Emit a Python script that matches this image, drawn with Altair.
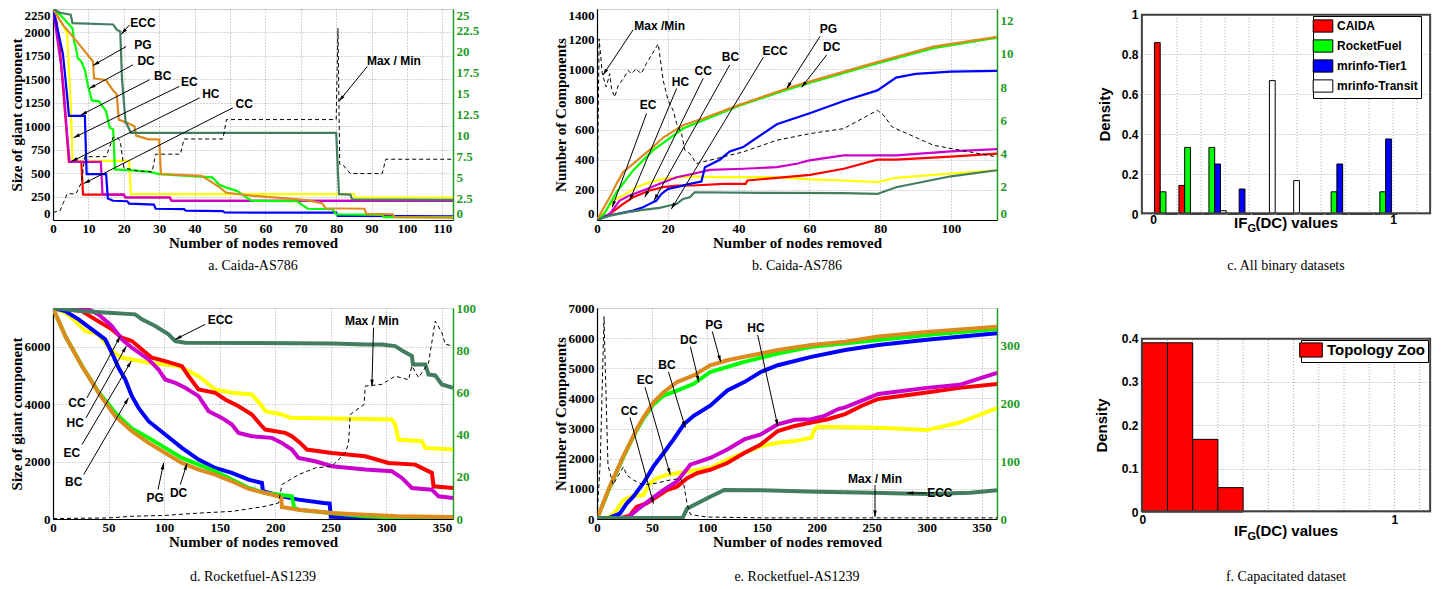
import math
import altair as alt
import pandas as pd

SERIF = "Liberation Serif"
SANS = "Liberation Sans"
AXGREEN = "#1e9a1e"
GRID = "#a8a8a8"
FRAME = "#404040"
COLORS = {"ECC": "#437d60", "EC": "#ffff00", "CC": "#ff0000", "HC": "#cc00cc",
          "BC": "#0000ff", "DC": "#00ff00", "PG": "#dd8a1e"}
ORDER = ["EC", "CC", "HC", "BC", "DC", "PG", "ECC"]
ARROW = "M0,0L-0.7,2.6L0.7,2.6Z"
W, H = 400, 211

# ---------------- Panel a: Caida-AS786, size of giant component ----------------
a_ECC_x = [0, 2, 5, 5.5, 17, 18, 19, 19.5, 20.5, 22, 80, 80.8, 84, 84.5, 113]
a_ECC_y = [2250, 2210, 2190, 2100, 2085, 2030, 2010, 1500, 1050, 930, 930, 275, 270, 220, 215]
a_PG_x = [0, 2.8, 6.6, 11.3, 11.6, 15, 17, 18, 18.6, 21, 23, 23.5, 27, 30, 30.5, 42, 47, 49, 56, 66, 72, 76, 77, 88, 88.5, 96, 96.5, 113]
a_PG_y = [2250, 2080, 1910, 1690, 1510, 1490, 1380, 1340, 1070, 1036, 1000, 900, 860, 860, 490, 470, 350, 290, 260, 230, 210, 180, 125, 120, 65, 60, 30, 25]
a_DC_x = [0, 2, 5.5, 6, 6.5, 7, 8, 9, 10, 11, 13, 15, 16, 17, 17.5, 22, 27, 30, 45, 47, 49, 52, 56, 69, 70, 72, 79, 80, 93, 93.5, 113]
a_DC_y = [2250, 2190, 2045, 1900, 1830, 1726, 1690, 1600, 1410, 1275, 1265, 1160, 985, 965, 540, 530, 515, 490, 455, 375, 345, 310, 205, 200, 170, 120, 115, 60, 55, 30, 30]
a_BC_x = [0, 1.5, 2.8, 4, 4.5, 9, 9.5, 15, 15.5, 17, 21, 21.5, 28.5, 29, 37, 37.5, 48, 48.5, 80, 80.5, 113]
a_BC_y = [2250, 2000, 1770, 1320, 1110, 1110, 490, 490, 230, 205, 200, 175, 165, 120, 115, 100, 95, 80, 78, 45, 40]
a_EC_x = [0, 2.5, 4, 5, 5.5, 21.5, 22, 85, 85.5, 113]
a_EC_y = [2250, 2100, 1990, 1250, 630, 630, 275, 275, 240, 240]
a_HC_x = [0, 1.7, 2.3, 3, 4, 4.7, 13.5, 14, 20, 20.5, 33, 33.5, 113]
a_HC_y = [2250, 1800, 1650, 1410, 910, 620, 620, 270, 270, 240, 240, 205, 205]
a_CC_x = [0, 1, 2, 3.5, 4.5, 8, 8.5, 20, 20.5, 33, 33.5, 113]
a_CC_y = [2250, 2115, 1800, 1090, 620, 620, 270, 270, 240, 240, 205, 205]
a_MM_x = [0, 2, 3, 4, 6.5, 8, 9, 15, 17, 18, 19, 20, 22, 24, 28, 29, 36, 37, 48, 49, 80, 80.5, 81, 82, 84, 93, 94, 113]
a_MM_y = [0.9, 1.1, 2.1, 3.1, 3.1, 4.4, 7.5, 7.5, 9.8, 9.8, 9.4, 6.2, 6.0, 5.8, 5.7, 7.8, 7.8, 9.6, 9.6, 11.9, 11.9, 22.7, 6.6, 6.5, 5.5, 5.5, 7.2, 7.2]
a_lab = ["ECC", "PG", "DC", "BC", "EC", "HC", "CC", "Max / Min"]
a_tx = [25.4, 25.4, 26.3, 31, 38.5, 44.6, 54, 96.3]
a_ty = [2098, 1868, 1691, 1532, 1468, 1348, 1242, 1691]
a_ax = [21.6, 20.7, 22.6, 27.3, 35.7, 41.4, 50.8, 88.8]
a_ay = [2080, 1850, 1655, 1496, 1425, 1302, 1196, 1638]
a_hx = [19.3, 11.3, 10.2, 7.8, 5.8, 5.2, 8.7, 80.8]
a_hy = [1981, 1648, 1401, 1118, 877, 623, 389, 1266]

# ---------------- Panel b: Caida-AS786, number of components ----------------
b_PG_x = [0, 1.7, 3.6, 5.5, 7.4, 10.2, 13, 15.8, 18.7, 24.3, 30, 40, 53.6, 60, 78.6, 95, 113]
b_PG_y = [0, 73, 151, 240, 318, 373, 429, 484, 547, 629, 673, 762, 873, 918, 1044, 1150, 1215]
b_DC_x = [0, 2, 5.5, 10.2, 15.8, 24.3, 40, 53.6, 60, 78.6, 95, 113]
b_DC_y = [0, 40, 184, 329, 462, 607, 756, 865, 910, 1035, 1140, 1210]
b_BC_x = [0, 1.7, 5.5, 10.2, 13, 14.9, 16.8, 18.2, 20.1, 22.5, 26.2, 29.5, 30.5, 34.7, 37.5, 41.3, 44.1, 46.9, 50.8, 60.3, 69.7, 79.2, 84.5, 90, 100, 113]
b_BC_y = [0, 18, 40, 62, 84, 107, 129, 173, 207, 218, 240, 255, 350, 400, 455, 484, 529, 573, 635, 710, 790, 860, 945, 970, 985, 990]
b_HC_x = [0, 3.6, 6.4, 9.2, 13, 17.7, 22.5, 27.2, 31.9, 41.3, 50.8, 56.4, 60, 69.7, 84.5, 100, 113]
b_HC_y = [0, 40, 129, 162, 196, 240, 284, 307, 333, 340, 351, 373, 396, 429, 429, 455, 470]
b_CC_x = [0, 3.6, 7.4, 10.2, 14.9, 18.7, 22.5, 27.2, 35.7, 42, 42.5, 50.8, 60.2, 69.7, 79.2, 84.5, 100, 113]
b_CC_y = [0, 40, 107, 151, 196, 218, 229, 229, 240, 240, 262, 280, 300, 340, 400, 400, 420, 440]
b_EC_x = [0, 2.6, 4.5, 7.4, 11.1, 14.9, 18.7, 26.2, 31.9, 41.3, 50.8, 60.2, 69.7, 79.2, 84.5, 95, 113]
b_EC_y = [0, 62, 129, 162, 218, 251, 273, 289, 284, 284, 284, 270, 262, 251, 280, 300, 330]
b_ECC_x = [0, 3.6, 8.3, 13, 17.7, 20.5, 22.5, 24.3, 26.2, 27.6, 50, 69.6, 79.2, 84.5, 100, 113]
b_ECC_y = [0, 29, 51, 67, 80, 96, 107, 140, 151, 184, 180, 178, 173, 217, 290, 330]
b_MM_x = [0, 0.6, 1.5, 2.6, 3.6, 4.1, 5, 6, 7.4, 8.8, 9.7, 11.1, 12.5, 13.9, 17.3, 18.7, 20.1, 21.5, 22.5, 23.9, 24.8, 26.2, 28.1, 31.9, 41.3, 50.8, 60.2, 69.7, 79.2, 81, 83.4, 95, 113]
b_MM_y = [0.2, 10.9, 8.8, 8.0, 8.8, 7.9, 7.4, 8.1, 8.5, 9.0, 8.8, 9.1, 8.8, 9.4, 10.6, 8.4, 7.2, 6.6, 5.8, 5.2, 4.2, 4.0, 3.4, 3.6, 4.1, 4.8, 5.2, 5.5, 6.6, 6.3, 5.6, 4.5, 3.8]
b_lab = ["Max /Min", "EC", "HC", "CC", "BC", "ECC", "PG", "DC"]
b_tx = [17.7, 14.4, 23.6, 30, 37.7, 50.3, 65.4, 66.3]
b_ty = [1289, 762, 918, 989, 1080, 1124, 1267, 1147]
b_ax = [10.2, 14, 22.5, 30, 37.5, 47, 63, 64.9]
b_ay = [1262, 707, 873, 940, 1029, 1080, 1218, 1096]
b_hx = [1.7, 4.3, 9.2, 13.5, 16.1, 21, 53.6, 57.8]
b_hy = [962, 84, 129, 151, 129, 73, 873, 880]

# ---------------- Panel d: Rocketfuel-AS1239, size of giant component ----------------
d_ECC_x = [0, 26, 50, 74, 80, 92, 104, 110, 119, 251, 281, 296, 308, 315, 323, 324, 335, 338, 344, 350, 360]
d_ECC_y = [7350, 7244, 7186, 7128, 6953, 6721, 6430, 6198, 6140, 6116, 6081, 6081, 6023, 5849, 5674, 5384, 5384, 5035, 5000, 4686, 4570]
d_PG_x = [0, 11, 26, 41, 56, 71, 86, 101, 116, 131, 146, 161, 176, 191, 203, 205.5, 206, 221, 251, 281, 311, 360]
d_PG_y = [7350, 6372, 5326, 4395, 3581, 3058, 2651, 2302, 1953, 1721, 1547, 1314, 1047, 907, 791, 733, 419, 326, 209, 151, 93, 70]
d_DC_x = [0, 11, 26, 41, 56, 71, 86, 101, 116, 131, 146, 161, 176, 191, 215, 217, 221, 251, 281, 311, 360]
d_DC_y = [7350, 6380, 5340, 4420, 3698, 3150, 2826, 2477, 2128, 1895, 1663, 1372, 1081, 907, 791, 400, 320, 200, 93, 50, 30]
d_BC_x = [0, 11, 23, 35, 47, 53, 59, 65, 71, 77, 86, 101, 116, 131, 146, 161, 176, 188, 189, 206, 221, 243.5, 249, 250, 300, 360]
d_BC_y = [7350, 7244, 6953, 6605, 6256, 5791, 5267, 4860, 4279, 3872, 3407, 2942, 2477, 2070, 1779, 1605, 1372, 1256, 965, 791, 674, 558, 540, 80, 30, 20]
d_EC_x = [0, 11, 20, 29, 41, 47, 53, 62, 71, 86, 101, 113, 122, 131, 146, 161, 179, 187, 191, 206, 213.5, 305, 308, 309.5, 311, 332, 335, 360]
d_EC_y = [7350, 7186, 6895, 6547, 6430, 6140, 5849, 5616, 5558, 5442, 5384, 5326, 5151, 4977, 4512, 4395, 4337, 3988, 3756, 3640, 3523, 3465, 3291, 3000, 2767, 2709, 2477, 2419]
d_CC_x = [0, 26, 38, 53, 62, 71, 80, 89, 101, 116, 122, 131, 146, 155, 167, 179, 188, 191, 209, 215, 222.5, 228.5, 251, 281, 302, 326, 335, 341, 342.5, 360]
d_CC_y = [7350, 7244, 6953, 6605, 6314, 6198, 5907, 5616, 5500, 5326, 4977, 4512, 4395, 4163, 3930, 3640, 3233, 3116, 3000, 2884, 2651, 2419, 2302, 2186, 1953, 1895, 1721, 1605, 1140, 1081]
d_HC_x = [0, 32, 41, 53, 62, 71, 86, 95, 101, 110, 119, 131, 140, 152, 161, 167, 179, 197, 206, 215, 221, 236, 251, 281, 305, 314, 323, 341, 347, 360]
d_HC_y = [7350, 7302, 7128, 6721, 6256, 5965, 5558, 5209, 4860, 4744, 4570, 4279, 3756, 3523, 3291, 3000, 2884, 2826, 2651, 2419, 2128, 2012, 1837, 1721, 1663, 1430, 1081, 1023, 791, 733]
d_MM_x = [0, 50, 71, 101, 131, 161, 191, 203, 206, 221, 236, 251, 263, 266, 267.5, 280, 281, 296, 308, 320, 323, 329, 338, 344, 350, 353, 360]
d_MM_y = [0.2, 0.5, 1.3, 1.7, 2.8, 3.6, 6.0, 7.6, 16.3, 21, 24.2, 25, 31.3, 36, 49.5, 54.3, 63, 63.8, 67.7, 66, 72.5, 67, 74, 93.8, 88.3, 82.8, 82]
d_lab = ["ECC", "Max / Min", "CC", "HC", "EC", "BC", "PG", "DC"]
d_tx = [150.6, 287, 21.6, 20, 17, 18.6, 92, 113]
d_ty = [6930, 6895, 4047, 3349, 2302, 1279, 733, 907]
d_ax = [137, 288.5, 30.6, 29.7, 26.1, 27.6, 94.5, 114.6]
d_ay = [6779, 6663, 4221, 3523, 2593, 1547, 1023, 1198]
d_hx = [110, 287, 60.6, 66, 70.5, 68, 99.6, 120.6]
d_hy = [6256, 4628, 6372, 6023, 5500, 4221, 1953, 1930]

# ---------------- Panel e: Rocketfuel-AS1239, number of components ----------------
e_PG_x = [0, 5.5, 11.6, 17.7, 23.9, 30, 36, 42.2, 51.4, 60.6, 72.8, 88, 103, 118.6, 134, 149, 164.5, 195, 225.7, 256, 300, 364]
e_PG_y = [0, 515, 1074, 1577, 2081, 2528, 2975, 3367, 3870, 4206, 4541, 4765, 5101, 5268, 5380, 5492, 5604, 5772, 5884, 6051, 6200, 6380]
e_DC_x = [0, 5.5, 11.6, 17.7, 23.9, 30, 36, 42.2, 51.4, 60.6, 72.8, 88, 103, 134, 164.5, 195, 256, 300, 364]
e_DC_y = [0, 500, 1050, 1550, 2050, 2500, 2940, 3330, 3800, 4094, 4262, 4485, 4877, 5213, 5492, 5716, 5940, 6100, 6300]
e_BC_x = [0, 11.6, 20.8, 27, 33, 42.2, 51.4, 60.6, 69.7, 79, 88, 103, 118.6, 134, 149, 164.5, 195, 225.7, 256, 300, 364]
e_BC_y = [0, 45, 179, 515, 738, 1186, 1745, 2192, 2640, 3143, 3423, 3758, 4262, 4541, 4877, 5101, 5380, 5604, 5772, 5950, 6160]
e_EC_x = [0, 11.6, 17.7, 24, 33, 42.2, 48, 54.4, 63.6, 72.8, 88, 103, 118.6, 134, 149, 164.5, 180, 195, 198, 201, 256, 300, 330, 364]
e_EC_y = [0, 67, 291, 626, 772, 794, 1186, 1353, 1465, 1521, 1611, 1689, 1969, 2192, 2416, 2528, 2584, 2696, 2975, 3060, 3031, 2950, 3200, 3680]
e_CC_x = [0, 20.8, 30, 36, 45, 54.4, 63.6, 72.8, 82, 91, 103, 118.6, 134, 149, 164.5, 180, 195, 210, 225.7, 241, 256, 300, 330, 364]
e_CC_y = [0, 22, 123, 403, 515, 738, 962, 1074, 1353, 1521, 1633, 1857, 2192, 2472, 2919, 3087, 3199, 3311, 3479, 3758, 3982, 4200, 4350, 4480]
e_HC_x = [0, 27, 36, 48, 60.6, 72.8, 85, 103, 118.6, 134, 149, 164.5, 180, 195, 207, 219.6, 225.7, 241, 256, 300, 330, 364]
e_HC_y = [0, 11, 291, 626, 962, 1242, 1801, 2025, 2304, 2640, 2808, 3143, 3289, 3311, 3423, 3647, 3702, 3926, 4150, 4350, 4450, 4850]
e_ECC_x = [0, 78, 82, 91, 103, 112.5, 115.6, 150, 200, 250, 300, 340, 364]
e_ECC_y = [30, 45, 347, 515, 738, 906, 962, 950, 900, 870, 830, 870, 950]
e_MM_x = [0, 3, 6.4, 7, 10, 14.7, 17.7, 24, 27, 33, 42, 54, 66.7, 76, 79, 82, 85, 100, 150, 200, 250, 300, 364]
e_MM_y = [5, 100, 350, 300, 92.7, 59, 70, 90, 76, 67.6, 59, 62, 67.6, 70, 59, 25.7, 7.8, 3.4, 2, 2, 2, 2, 2]
e_lab = ["PG", "HC", "DC", "BC", "EC", "CC", "Max / Min", "ECC"]
e_tx = [106.4, 144.6, 83.5, 63.6, 43.7, 29.4, 253, 312]
e_ty = [6443, 6331, 5940, 5101, 4597, 3591, 1340, 860]
e_ax = [104.9, 146.2, 85, 65.1, 43.7, 30, 253, 300]
e_ay = [6219, 6107, 5716, 4877, 4374, 3367, 1128, 860]
e_hx = [112.5, 164.5, 92.7, 80.4, 66.7, 51.4, 253, 282]
e_hy = [5213, 3087, 4541, 3031, 1465, 515, 67, 860]

# ---------------- Panel c: all binary datasets (grouped histogram) ----------------
c_datasets = ["CAIDA", "RocketFuel", "mrinfo-Tier1", "mrinfo-Transit"]
c_colors = ["#ff0000", "#00ff00", "#0000ff", "#ffffff"]
c_centers = [0.054, 0.156, 0.257, 0.359, 0.461, 0.562, 0.664, 0.766, 0.868, 0.969]
c_CAIDA = [0.857, 0.143, 0, 0, 0, 0, 0, 0, 0, 0]
c_RocketFuel = [0.111, 0.333, 0.333, 0, 0, 0, 0, 0.111, 0, 0.111]
c_Tier1 = [0, 0, 0.25, 0.125, 0, 0, 0, 0.25, 0, 0.375]
c_Transit = [0, 0, 0.0167, 0, 0.667, 0.167, 0, 0, 0, 0]
c_xgrid = [0.1, 0.2, 0.3, 0.4, 0.5, 0.6, 0.7, 0.8, 0.9, 1.0, 1.1]

# ---------------- Panel f: capacitated dataset ----------------
f_left = [0.0, 0.1, 0.2, 0.3]
f_right = [0.1, 0.2, 0.3, 0.4]
f_density = [0.389, 0.389, 0.167, 0.056]
f_xgrid = [0.1, 0.2, 0.3, 0.4, 0.5, 0.6, 0.7, 0.8, 0.9, 1.0, 1.1]


def arrow_angle(x1, y1, x2, y2, xd, yd):
    dx = (x2 - x1) / (xd[1] - xd[0]) * W
    dy = -(y2 - y1) / (yd[1] - yd[0]) * H
    return math.degrees(math.atan2(dx, -dy)) % 360


def line_panel(series, mm, xdom, ydom, rdom, xticks, yticks, rticks, ytitle,
               ann, lw, caption, cap_y, flush):
    xs = alt.Scale(domain=xdom, nice=False, zero=False)
    ys = alt.Scale(domain=ydom, nice=False, zero=False)
    rs = alt.Scale(domain=rdom, nice=False, zero=False)
    xax = alt.Axis(values=xticks, grid=True, gridColor=GRID, gridDash=[1, 2], ticks=False,
                   domainColor="black", domainWidth=1.2, labelFont=SERIF, labelFontSize=13,
                   labelFontWeight="bold", labelColor="black", labelPadding=2, labelFlush=False,
                   labelOverlap=False, labelExpr="datum.value", titleFont=SERIF, titleFontSize=15,
                   titleFontWeight="bold", titleColor="black", titlePadding=0)
    yax = alt.Axis(values=yticks, grid=True, gridColor=GRID, gridDash=[1, 2], ticks=False,
                   domainColor="black", domainWidth=1.2, labelFont=SERIF, labelFontSize=13,
                   labelFontWeight="bold", labelColor="black", labelPadding=3, labelFlush=flush,
                   labelOverlap=False, labelExpr="datum.value", titleFont=SERIF, titleFontSize=15,
                   titleFontWeight="bold", titleColor="black", titlePadding=0)
    rax = alt.Axis(orient="right", values=rticks, grid=False, ticks=False, domainColor=AXGREEN,
                   domainWidth=1.5, labelFont=SERIF, labelFontSize=13, labelFontWeight="bold",
                   labelColor=AXGREEN, labelPadding=3, labelFlush=flush, labelOverlap=False,
                   labelExpr="datum.value")

    def fx(f):
        return alt.X(f"{f}:Q", scale=xs, axis=xax, title="Number of nodes removed")

    def fy(f):
        return alt.Y(f"{f}:Q", scale=ys, axis=yax, title=ytitle)

    left = []
    for s in ORDER:
        if s not in series:
            continue
        xv, yv = series[s]
        d = pd.DataFrame({"x": xv, "y": yv})
        left.append(alt.Chart(d).mark_line(color=COLORS[s], strokeWidth=lw, clip=True)
                    .encode(x=fx("x"), y=fy("y")))
    lab, tx, ty, ax_, ay, hx, hy = ann
    adf = pd.DataFrame({"lab": lab, "tx": tx, "ty": ty, "ax": ax_, "ay": ay, "hx": hx, "hy": hy})
    adf["ang"] = [arrow_angle(a, b, c, e, xdom, ydom) for a, b, c, e in zip(ax_, ay, hx, hy)]
    left.append(alt.Chart(adf).mark_rule(color="black", strokeWidth=1)
                .encode(x=fx("ax"), y=fy("ay"), x2="hx:Q", y2="hy:Q"))
    left.append(alt.Chart(adf).mark_point(shape=ARROW, filled=True, color="black", size=25,
                                          opacity=1, strokeWidth=0)
                .encode(x=fx("hx"), y=fy("hy"), angle=alt.Angle("ang:Q", scale=None)))
    left.append(alt.Chart(adf).mark_text(font=SANS, fontSize=12, fontWeight="bold", color="black")
                .encode(x=fx("tx"), y=fy("ty"), text="lab:N"))
    left.append(alt.Chart(pd.DataFrame({"t": [caption]}))
                .mark_text(font=SERIF, fontSize=14, color="black", baseline="middle")
                .encode(text="t:N", x=alt.value(W / 2), y=alt.value(cap_y)))
    mdf = pd.DataFrame({"x": mm[0], "v": mm[1]})
    right = alt.Chart(mdf).mark_line(color="black", strokeWidth=1, strokeDash=[4, 3], clip=True).encode(
        x=fx("x"), y=alt.Y("v:Q", scale=rs, axis=rax, title=None))
    return (alt.layer(alt.layer(*left), right).resolve_scale(y="independent")
            .properties(width=W, height=H))


def subscript_title(cx, base):
    pieces = [("IF", 15, -52, 0), ("G", 11, -38.5, 4), ("(DC) values", 15, -30.5, 0)]
    out = []
    for t, fs, dx, dy in pieces:
        out.append(alt.Chart(pd.DataFrame({"t": [t]}))
                   .mark_text(font=SANS, fontSize=fs, fontWeight="bold", color="black",
                              align="left", baseline="alphabetic")
                   .encode(text="t:N", x=alt.value(cx + dx), y=alt.value(base + dy)))
    return out


def hist_panel(bars, xdom, ydom, yr, yticks, xoff, xlp, xgrid, legend_kw,
               ytp, title_base, caption, cap_y, domain_names, colors, flush):
    CW = 290
    xs = alt.Scale(domain=xdom, nice=False, zero=False)
    ys = alt.Scale(domain=ydom, range=yr, nice=False, zero=False)
    xax = alt.Axis(values=[0, 1], offset=xoff, grid=False, ticks=False, domain=False,
                   labelFont=SANS, labelFontSize=12, labelFontWeight="bold", labelColor="black",
                   labelPadding=xlp, labelFlush=False, labelExpr="datum.value")
    yax = alt.Axis(values=yticks, grid=True, gridColor=GRID, gridDash=[1, 2], ticks=False,
                   domain=False, labelFont=SANS, labelFontSize=12, labelFontWeight="bold",
                   labelColor="black", labelPadding=3, labelExpr="datum.value", labelFlush=flush,
                   titleFont=SANS, titleFontSize=15, titleFontWeight="bold", titleColor="black",
                   titlePadding=ytp)

    def fx(f):
        return alt.X(f"{f}:Q", scale=xs, axis=xax, title=None)

    def fy(f):
        return alt.Y(f"{f}:Q", scale=ys, axis=yax, title="Density")

    gdf = pd.DataFrame({"g": xgrid, "lo": [ydom[0]] * len(xgrid), "hi": [ydom[1]] * len(xgrid)})
    grid = alt.Chart(gdf).mark_rule(color=GRID, strokeDash=[1, 2]).encode(
        x=fx("g"), y=fy("lo"), y2="hi:Q")
    legend = alt.Legend(orient="none", symbolType="M-1.6,-1L1.6,-1L1.6,1L-1.6,1Z",
                        symbolStrokeColor="black", symbolStrokeWidth=1, symbolOpacity=1,
                        labelFont=SANS, labelFontWeight="bold", labelColor="black",
                        strokeColor="black", fillColor="white", **legend_kw)
    b = alt.Chart(bars).mark_bar(stroke="black", strokeWidth=1, opacity=1).encode(
        x=fx("x0"), x2="x1:Q", y=fy("v"), y2=alt.Y2Datum(0),
        color=alt.Color("ds:N", scale=alt.Scale(domain=domain_names, range=colors), title=None,
                        legend=legend))
    # plot frame: four edge rules through the scales, a hair inside the domain
    ex = (xdom[1] - xdom[0]) * 0.003
    ey = (ydom[1] - ydom[0]) * 0.004
    vdf = pd.DataFrame({"g": [xdom[0] + ex, xdom[1] - ex], "lo": [ydom[0]] * 2, "hi": [ydom[1]] * 2})
    vert = alt.Chart(vdf).mark_rule(stroke=FRAME, strokeWidth=2, opacity=1).encode(
        x=fx("g"), y=fy("lo"), y2="hi:Q")
    hdf = pd.DataFrame({"yy": [ydom[0] + ey, ydom[1] - ey], "xa": [xdom[0]] * 2, "xb": [xdom[1]] * 2})
    horiz = alt.Chart(hdf).mark_rule(stroke=FRAME, strokeWidth=2, opacity=1).encode(
        y=fy("yy"), x=fx("xa"), x2="xb:Q")
    cap = alt.Chart(pd.DataFrame({"t": [caption]})).mark_text(
        font=SERIF, fontSize=14, color="black", baseline="middle").encode(
        text="t:N", x=alt.value(CW / 2), y=alt.value(cap_y))
    layers = [grid, b, vert, horiz, cap] + subscript_title(CW / 2, title_base)
    return alt.layer(*layers).properties(width=CW, height=H,
                                         view=alt.ViewBackground(strokeOpacity=0))


# ---------- build panels ----------
pa = line_panel({"ECC": (a_ECC_x, a_ECC_y), "PG": (a_PG_x, a_PG_y), "DC": (a_DC_x, a_DC_y),
                 "BC": (a_BC_x, a_BC_y), "EC": (a_EC_x, a_EC_y), "HC": (a_HC_x, a_HC_y),
                 "CC": (a_CC_x, a_CC_y)}, (a_MM_x, a_MM_y), [0, 113], [0, 2250], [0, 25],
                list(range(0, 111, 10)), list(range(0, 2251, 250)),
                [0, 2.5, 5, 7.5, 10, 12.5, 15, 17.5, 20, 22.5, 25], "Size of giant component",
                (a_lab, a_tx, a_ty, a_ax, a_ay, a_hx, a_hy), 2.2, "a. Caida-AS786", 257, True)
pb = line_panel({"ECC": (b_ECC_x, b_ECC_y), "PG": (b_PG_x, b_PG_y), "DC": (b_DC_x, b_DC_y),
                 "BC": (b_BC_x, b_BC_y), "EC": (b_EC_x, b_EC_y), "HC": (b_HC_x, b_HC_y),
                 "CC": (b_CC_x, b_CC_y)}, (b_MM_x, b_MM_y), [0, 113], [0, 1400], [0, 12.7],
                list(range(0, 101, 20)), list(range(0, 1401, 200)), [0, 2, 4, 6, 8, 10, 12],
                "Number of Components", (b_lab, b_tx, b_ty, b_ax, b_ay, b_hx, b_hy), 2.2,
                "b. Caida-AS786", 257, True)
pd_ = line_panel({"ECC": (d_ECC_x, d_ECC_y), "PG": (d_PG_x, d_PG_y), "DC": (d_DC_x, d_DC_y),
                  "BC": (d_BC_x, d_BC_y), "EC": (d_EC_x, d_EC_y), "HC": (d_HC_x, d_HC_y),
                  "CC": (d_CC_x, d_CC_y)}, (d_MM_x, d_MM_y), [0, 360], [0, 7350], [0, 100],
                 list(range(0, 351, 50)), [0, 2000, 4000, 6000], [0, 20, 40, 60, 80, 100],
                 "Size of giant component", (d_lab, d_tx, d_ty, d_ax, d_ay, d_hx, d_hy), 4,
                 "d. Rocketfuel-AS1239", 269, False)
pe = line_panel({"ECC": (e_ECC_x, e_ECC_y), "PG": (e_PG_x, e_PG_y), "DC": (e_DC_x, e_DC_y),
                 "BC": (e_BC_x, e_BC_y), "EC": (e_EC_x, e_EC_y), "HC": (e_HC_x, e_HC_y),
                 "CC": (e_CC_x, e_CC_y)}, (e_MM_x, e_MM_y), [0, 364], [0, 7000], [0, 365],
                list(range(0, 351, 50)), list(range(0, 7001, 1000)), [0, 100, 200, 300],
                "Number of Components", (e_lab, e_tx, e_ty, e_ax, e_ay, e_hx, e_hy), 4,
                "e. Rocketfuel-AS1239", 269, False)

bw = 0.024
rows = []
for k, (name, vals) in enumerate(zip(c_datasets, [c_CAIDA, c_RocketFuel, c_Tier1, c_Transit])):
    for cx, v in zip(c_centers, vals):
        x0 = cx + (k - 2) * bw
        rows.append({"ds": name, "x0": x0, "x1": x0 + bw, "v": v})
c_bars = pd.DataFrame(rows)
pc = hist_panel(c_bars, [-0.05, 1.158], [0, 1], [205, 5], [0, 0.2, 0.4, 0.6, 0.8, 1], -6, 0,
                c_xgrid, dict(legendX=172, legendY=7, symbolSize=150, labelFontSize=12,
                              labelOffset=7, padding=3, rowPadding=2),
                9, 219, "c. All binary datasets", 257, c_datasets, c_colors, False)

f_bars = pd.DataFrame({"ds": ["Topology Zoo"] * 4, "x0": f_left, "x1": f_right, "v": f_density})
pf = hist_panel(f_bars, [-0.005, 1.145], [0, 0.4], [204, 30], [0, 0.1, 0.2, 0.3, 0.4], -7, 2,
                f_xgrid, dict(legendX=160, legendY=32, symbolSize=200, labelFontSize=15,
                              labelOffset=8, padding=2, rowPadding=2),
                12, 228, "f. Capacitated dataset", 269, ["Topology Zoo"], ["#ff0000"], False)

chart = alt.concat(pa, pb, pc, pd_, pe, pf, columns=3,
                   spacing={"row": 88, "column": 144}, bounds="flush").resolve_scale(
    color="independent").resolve_legend(color="independent").properties(
    padding={"left": 0, "top": 0, "right": 0, "bottom": 0}
).configure_view(stroke="black", strokeWidth=1.2).configure(font=SERIF)

chart.save("out.html", embed_options={"renderer": "svg", "actions": False})
